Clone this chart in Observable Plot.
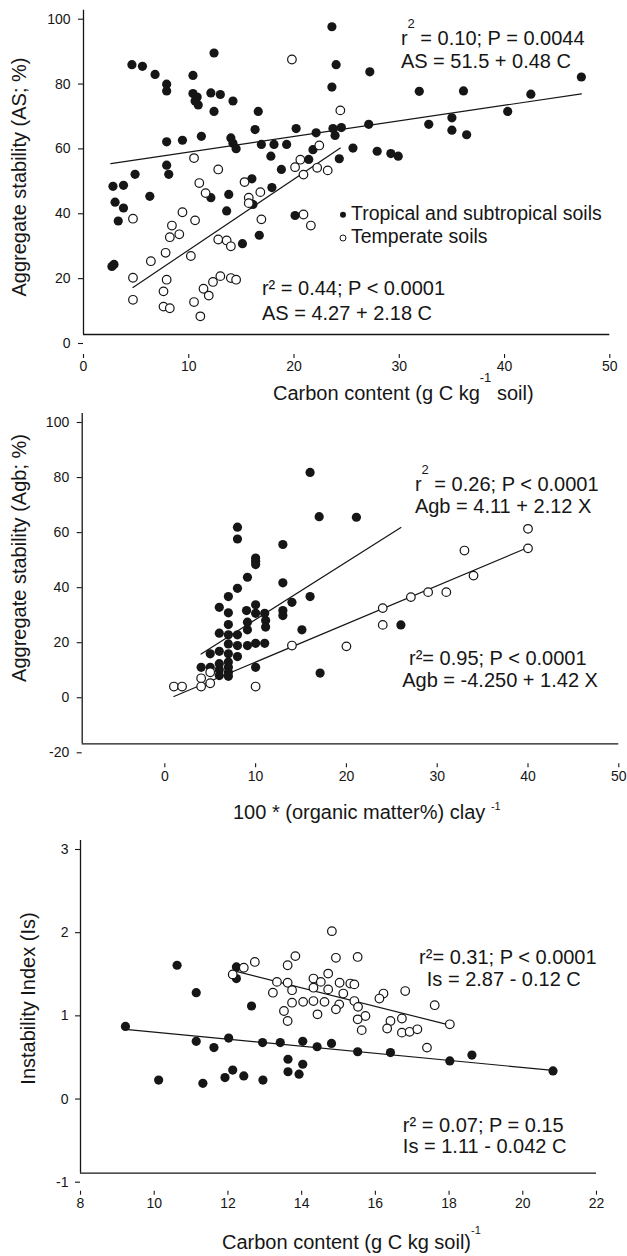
<!DOCTYPE html>
<html><head><meta charset="utf-8">
<script src="https://cdn.jsdelivr.net/npm/d3@7"></script>
<script src="https://cdn.jsdelivr.net/npm/@observablehq/plot@0.6"></script>
<style>
html,body{margin:0;padding:0;background:#fff;overflow:hidden;}
#chart svg{display:block;}
</style></head><body><div id="chart"></div>
<script>
const FONT = '"Liberation Sans", Arial, Helvetica, sans-serif';
const INK = "#161616";

// ---------- Panel 1: Aggregate stability (AS) vs carbon content ----------
const tropAS = [[2.8,45.7],[3.8,46.0],[3.0,40.8],[3.8,39.0],[3.3,35.0],[2.7,21.0],[2.9,21.6],[4.6,83.2],[5.6,82.7],[6.8,80.2],
 [7.9,77.2],[7.9,75.1],[7.9,52.2],[8.1,49.4],[7.9,59.4],[9.4,59.9],[4.9,49.4],[6.3,42.6],[10.4,79.9],[10.4,74.3],
 [10.8,73.2],[10.6,72.0],[10.9,70.8],[12.4,86.8],[12.1,74.5],[13.0,74.0],[12.4,68.8],[14.2,72.0],[16.6,68.8],[11.2,61.1],
 [14.0,60.6],[14.2,59.0],[14.5,57.3],[16.3,63.2],[16.9,58.6],[17.8,55.0],[18.1,58.6],[19.3,58.6],[20.2,63.5],[22.1,62.2],
 [21.8,57.0],[18.8,50.9],[17.9,45.3],[16.0,48.0],[13.8,43.2],[12.1,42.2],[21.4,54.0],[23.6,94.9],[24.0,83.2],[27.2,81.0],
 [23.6,76.3],[31.9,75.0],[36.1,75.1],[42.5,74.1],[47.3,79.4],[23.7,63.5],[23.9,61.4],[24.5,63.8],[27.1,64.8],[32.8,64.8],
 [35.0,66.8],[35.0,63.0],[36.4,61.6],[40.3,68.8],[24.3,54.2],[25.6,57.5],[27.9,56.5],[29.2,55.8],[29.9,55.0],[13.6,38.1],
 [16.1,40.1],[15.1,28.0],[16.7,30.6],[20.1,36.7]];
const tempAS = [[19.8,84.8],[10.5,54.4],[12.8,50.9],[11.0,46.7],[11.6,43.6],[15.3,47.0],[15.7,42.2],[15.7,40.5],[16.8,43.9],[20.1,51.6],
 [20.6,53.9],[22.2,51.4],[20.9,49.3],[22.4,58.3],[24.4,69.1],[23.2,50.6],[4.7,35.7],[9.4,37.7],[8.4,33.6],[9.1,30.9],
 [8.2,30.0],[10.6,35.2],[7.8,25.2],[10.2,24.2],[6.4,22.6],[4.7,17.5],[4.7,10.7],[7.9,16.9],[7.6,13.3],[7.6,8.6],
 [8.2,8.1],[10.5,10.0],[11.1,5.6],[11.4,14.1],[11.9,12.0],[12.3,16.2],[13.0,18.0],[14.0,17.4],[14.5,16.9],[12.8,29.3],
 [13.6,29.0],[14.0,27.2],[16.9,35.5],[20.9,37.0],[21.6,33.6]];
const fitTropAS = [[2.6,52.7],[47.3,74.2]];
const fitTempAS = [[4.7,14.5],[24.4,57.5]];
const ticksX1 = [0,10,20,30,40,50];
const ticksY1 = [0,20,40,60,80,100];

// ---------- Panel 2: Aggregate stability (Agb) vs 100*(OM%)/clay ----------
const tropAgb = [[16.0,78.6],[17.0,62.5],[21.1,62.3],[8.0,58.7],[8.0,54.4],[13.0,52.4],[10.0,47.5],[10.0,46.3],[10.0,45.1],[9.1,40.5],
 [8.0,36.5],[13.0,38.5],[7.0,33.5],[6.0,29.6],[7.0,27.6],[9.0,28.4],[10.0,30.5],[10.0,27.4],[11.0,27.4],[13.0,28.4],
 [13.0,26.6],[14.0,31.4],[16.0,33.5],[11.1,24.8],[11.1,22.4],[7.0,23.3],[9.1,24.2],[9.1,21.4],[6.0,20.2],[7.0,19.6],
 [8.0,19.6],[7.0,16.3],[8.0,15.7],[9.1,15.7],[10.0,16.5],[11.0,16.5],[5.0,12.7],[6.0,13.6],[7.0,12.7],[8.0,11.7],
 [4.0,7.8],[5.0,7.8],[6.0,9.1],[6.0,6.9],[6.0,4.8],[7.0,9.7],[7.0,7.8],[7.0,6.0],[7.0,4.5],[10.0,7.8],
 [15.1,21.4],[17.1,5.7],[26.0,23.2]];
const tempAgb = [[40.0,58.1],[40.0,51.0],[33.0,50.2],[34.0,41.1],[31.0,35.1],[29.0,35.1],[27.1,33.3],[24.0,29.3],[24.0,23.2],[20.0,15.4],
 [14.0,15.7],[1.0,0.8],[1.9,0.8],[4.0,3.8],[4.0,0.8],[5.0,6.0],[5.0,2.0],[10.0,0.8]];
const fitTropAgb = [[4.0,12.6],[26.0,58.6]];
const fitTempAgb = [[1.0,-2.8],[40.0,51.3]];
const ticksX2 = [0,10,20,30,40,50];
const ticksY2 = [-20,0,20,40,60,80,100];

// ---------- Panel 3: Instability index (Is) vs carbon content ----------
const tropIs = [[9.22,0.765],[10.62,1.50],[11.14,1.17],[12.23,1.48],[12.23,1.34],[12.64,1.01],[11.14,0.585],[11.62,0.51],[12.02,0.625],[12.94,0.57],
 [13.42,0.57],[14.03,0.585],[14.42,0.52],[10.12,0.12],[11.32,0.08],[11.92,0.15],[12.13,0.24],[12.43,0.17],[12.95,0.12],[13.63,0.37],
 [13.63,0.22],[13.93,0.19],[14.03,0.31],[14.81,0.56],[15.52,0.46],[16.41,0.45],[18.02,0.35],[18.62,0.42],[20.82,0.23]];
const tempIs = [[14.82,1.91],[14.93,1.59],[15.52,1.60],[14.72,1.40],[14.32,1.34],[14.52,1.30],[15.03,1.29],[15.32,1.28],[15.43,1.27],[14.32,1.23],
 [14.72,1.21],[15.13,1.16],[14.04,1.06],[14.32,1.07],[14.62,1.06],[15.02,1.03],[14.93,0.97],[14.43,0.91],[15.43,1.07],[15.53,1.00],
 [15.73,0.89],[15.52,0.85],[15.63,0.72],[16.22,1.16],[16.11,1.10],[16.81,1.19],[16.41,0.83],[16.72,0.86],[16.32,0.74],[16.72,0.69],
 [16.93,0.70],[17.14,0.73],[17.61,1.02],[18.02,0.79],[17.40,0.51],[12.13,1.39],[12.43,1.47],[12.73,1.54],[13.33,1.30],[13.22,1.17],
 [13.62,1.50],[13.83,1.61],[13.62,1.29],[13.74,1.20],[13.74,1.05],[13.52,0.95],[13.62,0.83]];
const fitTropIs = [[9.22,0.73],[20.82,0.236]];
const fitTempIs = [[12.2,1.43],[18.02,0.78]];
const ticksX3 = [8,10,12,14,16,18,20,22];
const ticksY3 = [-1,0,1,2,3];

// ---------- Text annotations (anchored in data units) ----------
const eqAS = [
  {x:30.2, y:89.2, parts:[{t:"r"},{t:"2",size:13,dy:-17},{t:" = 0.10; P = 0.0044",dy:17}]},
  {x:30.2, y:82.1, parts:[{t:"AS = 51.5 + 0.48 C"}]},
  {x:17.0, y:12.0, parts:[{t:"r² = 0.44; P < 0.0001"}]},
  {x:17.0, y:4.3,  parts:[{t:"AS = 4.27 + 2.18 C"}]}
];
const eqAgb = [
  {x:27.6, y:71.7, parts:[{t:"r"},{t:"2",size:13,dy:-17},{t:" = 0.26; P < 0.0001",dy:17}]},
  {x:27.6, y:63.7, parts:[{t:"Agb = 4.11 + 2.12 X"}]},
  {x:26.95, y:8.5, parts:[{t:"r²= 0.95; P < 0.0001"}]},
  {x:26.2, y:0.5,  parts:[{t:"Agb = -4.250 + 1.42 X"}]}
];
const eqIs = [
  {x:17.2, y:1.51,  parts:[{t:"r²= 0.31; P < 0.0001"}]},
  {x:17.41, y:1.24, parts:[{t:"Is = 2.87 - 0.12 C"}]},
  {x:16.76, y:-0.51, parts:[{t:"r² = 0.07; P = 0.15"}]},
  {x:16.76, y:-0.76, parts:[{t:"Is = 1.11 - 0.042 C"}]}
];
const legendLabels = ["Tropical and subtropical soils", "Temperate soils"];
const legendAnchor = {x:24.7, y:[36.8, 29.6]};

const pts = a => a.map(([x, y]) => ({x, y}));

function addText(svg, sx, sy, a) {
  const t = d3.select(svg).append("text")
    .attr("x", sx(a.x)).attr("y", sy(a.y)).attr("text-anchor", "start")
    .attr("font-size", 20).attr("fill", INK).attr("font-family", FONT)
    .style("white-space", "pre");
  for (const p of a.parts) {
    const ts = t.append("tspan").text(p.t);
    if (p.dy) ts.attr("dy", p.dy);
    if (p.size) ts.attr("font-size", p.size);
  }
}

function panel(c) {
  const svg = Plot.plot({
    width: 627, height: c.height,
    marginTop: c.mt, marginBottom: c.mb, marginLeft: c.ml, marginRight: c.mr,
    style: {fontFamily: FONT, background: "transparent", overflow: "visible", color: INK},
    x: {domain: c.xDomain},
    y: {domain: c.yDomain},
    marks: [
      Plot.ruleX([c.xDomain[0]], {stroke: INK, strokeWidth: 1.3}),
      Plot.ruleY([c.yDomain[0]], {stroke: INK, strokeWidth: 1.3}),
      Plot.axisY({ticks: c.yTicks, tickSize: 5, tickPadding: c.ytp, dy: 9, fontSize: 14, label: null,
                  tickFormat: d => String(d), stroke: INK, fill: INK, strokeWidth: 1.1}),
      Plot.axisX({ticks: c.xTicks, tickSize: 4, tickPadding: 3, dy: c.xdy, fontSize: 14, label: null,
                  tickFormat: d => String(d), stroke: INK, fill: INK, strokeWidth: 1.1}),
      Plot.line(pts(c.fitTrop), {x: "x", y: "y", stroke: INK, strokeWidth: 1.2}),
      Plot.line(pts(c.fitTemp), {x: "x", y: "y", stroke: INK, strokeWidth: 1.2}),
      Plot.dot(pts(c.trop), {x: "x", y: "y", r: 4.6, fill: INK, stroke: "none"}),
      Plot.dot(pts(c.temp), {x: "x", y: "y", r: 4.3, fill: "white", stroke: INK, strokeWidth: 1.2})
    ]
  });
  const sx = svg.scale("x").apply, sy = svg.scale("y").apply;
  for (const a of c.eqs) addText(svg, sx, sy, a);
  const s = d3.select(svg);
  // y axis title
  s.append("text").attr("transform", `translate(${c.yTitle.x},${c.yTitle.y}) rotate(-90)`)
    .attr("text-anchor", "middle").attr("font-size", 20).attr("fill", INK).attr("font-family", FONT)
    .text(c.yTitle.text);
  // x axis title with superscript
  const xt = s.append("text").attr("x", c.xTitle.x).attr("y", c.xTitle.y).attr("text-anchor", "start")
    .attr("font-size", 20).attr("fill", INK).attr("font-family", FONT).style("white-space", "pre");
  xt.append("tspan").text(c.xTitle.pre);
  xt.append("tspan").attr("dy", c.xTitle.supDy).attr("font-size", c.xTitle.supSize).text(c.xTitle.sup);
  if (c.xTitle.post) xt.append("tspan").attr("dy", -c.xTitle.supDy).text(c.xTitle.post);
  if (c.legend) c.legend(s, sx, sy);
  return svg;
}

const root = document.getElementById("chart");

root.appendChild(panel({
  height: 403, mt: 9.7, mb: 403 - 334, ml: 83, mr: 627 - 609.3,
  xDomain: [0, 50], yDomain: [0, 100], xTicks: ticksX1, yTicks: ticksY1, ytp: 8, xdy: 20,
  trop: tropAS, temp: tempAS, fitTrop: fitTropAS, fitTemp: fitTempAS, eqs: eqAS,
  yTitle: {x: 26, y: 177, text: "Aggregate stability (AS; %)"},
  xTitle: {x: 273, y: 400, pre: "Carbon content (g C kg", sup: "-1", supDy: -18, supSize: 13, post: " soil)"},
  legend: (s, sx, sy) => {
    legendLabels.forEach((lab, i) => {
      const cx = sx(legendAnchor.x), cy = sy(legendAnchor.y[i]);
      s.append("circle").attr("cx", cx).attr("cy", cy).attr("r", 3)
        .attr("fill", i === 0 ? INK : "white").attr("stroke", INK).attr("stroke-width", i === 0 ? 0 : 1);
      s.append("text").attr("x", cx + 8).attr("y", cy + 5).attr("text-anchor", "start")
        .attr("font-size", 19.5).attr("fill", INK).attr("font-family", FONT).text(lab);
    });
  }
}));

root.appendChild(panel({
  height: 427, mt: 413 - 403, mb: 427 - (743.3 - 403), ml: 81.7, mr: 627 - 618.3,
  xDomain: [-9.1, 50], yDomain: [-20, 100], xTicks: ticksX2, yTicks: ticksY2, ytp: 8, xdy: 20,
  trop: tropAgb, temp: tempAgb, fitTrop: fitTropAgb, fitTemp: fitTempAgb, eqs: eqAgb,
  yTitle: {x: 26, y: 155, text: "Aggregate stability (Agb; %)"},
  xTitle: {x: 233, y: 416, pre: "100 * (organic matter%) clay ", sup: "-1", supDy: -9, supSize: 11, post: ""}
}));

root.appendChild(panel({
  height: 426, mt: 10, mb: 426 - (1172.7 - 830), ml: 80, mr: 627 - 596,
  xDomain: [8, 22], yDomain: [-1, 3], xTicks: ticksX3, yTicks: ticksY3, ytp: 7, xdy: 18,
  trop: tropIs, temp: tempIs, fitTrop: fitTropIs, fitTemp: fitTempIs, eqs: eqIs,
  yTitle: {x: 35, y: 168.5, text: "Instability Index (Is)"},
  xTitle: {x: 222, y: 419, pre: "Carbon content (g C kg soil)", sup: "-1", supDy: -15, supSize: 11, post: ""}
}));
</script>
</body></html>
